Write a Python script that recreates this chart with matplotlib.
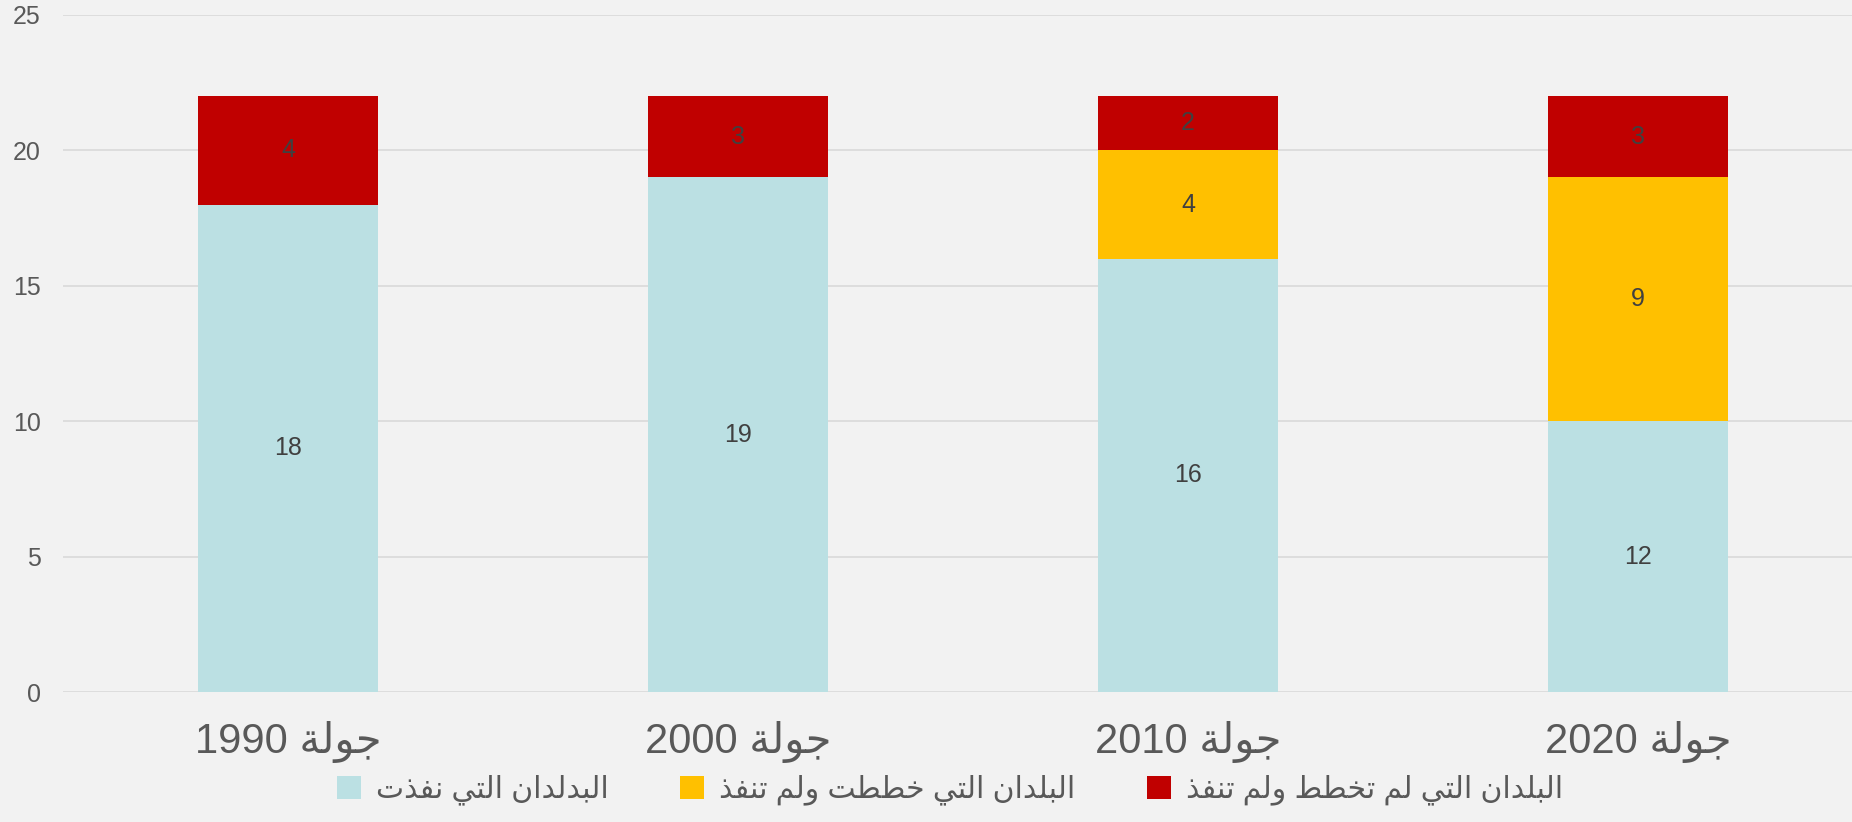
import matplotlib.pyplot as plt

# ---- data ----
categories = ['جولة 1990', 'جولة 2000', 'جولة 2010', 'جولة 2020']
implemented = [18, 19, 16, 10]
implemented_labels = ['18', '19', '16', '12']   # label shown in the source chart
planned_not_done = [0, 0, 4, 9]
not_planned = [4, 3, 2, 3]
series_names = ['البدلدان التي نفذت', 'البلدان التي خططت ولم تنفذ', 'البلدان التي لم تخطط ولم تنفذ']
y_ticks = [0, 5, 10, 15, 20, 25]

colors = ['#BBE0E3', '#FFC000', '#C00000']
text_color = '#595959'
label_color = '#404040'

# ---- minimal Arabic shaping (presentation forms + visual order) ----
FORMS = {  # isolated, final, initial, medial
    'ا': ('\uFE8D', '\uFE8E', None, None),
    'ب': ('\uFE8F', '\uFE90', '\uFE91', '\uFE92'),
    'ة': ('\uFE93', '\uFE94', None, None),
    'ت': ('\uFE95', '\uFE96', '\uFE97', '\uFE98'),
    'ج': ('\uFE9D', '\uFE9E', '\uFE9F', '\uFEA0'),
    'خ': ('\uFEA5', '\uFEA6', '\uFEA7', '\uFEA8'),
    'د': ('\uFEA9', '\uFEAA', None, None),
    'ذ': ('\uFEAB', '\uFEAC', None, None),
    'ط': ('\uFEC1', '\uFEC2', '\uFEC3', '\uFEC4'),
    'ف': ('\uFED1', '\uFED2', '\uFED3', '\uFED4'),
    'ل': ('\uFEDD', '\uFEDE', '\uFEDF', '\uFEE0'),
    'م': ('\uFEE1', '\uFEE2', '\uFEE3', '\uFEE4'),
    'ن': ('\uFEE5', '\uFEE6', '\uFEE7', '\uFEE8'),
    'و': ('\uFEED', '\uFEEE', None, None),
    'ي': ('\uFEF1', '\uFEF2', '\uFEF3', '\uFEF4'),
}


def shape_word(s):
    out = []
    for i, ch in enumerate(s):
        if ch not in FORMS:
            out.append(ch)
            continue
        prev = s[i - 1] if i > 0 else None
        nxt = s[i + 1] if i + 1 < len(s) else None
        join_prev = prev in FORMS and FORMS[prev][2] is not None
        join_next = FORMS[ch][2] is not None and nxt in FORMS
        iso, fin, ini, med = FORMS[ch]
        if join_prev and join_next:
            out.append(med)
        elif join_prev:
            out.append(fin)
        elif join_next:
            out.append(ini)
        else:
            out.append(iso)
    return ''.join(out)


def ar(s):
    shaped = shape_word(s)
    runs, cur, cur_digit = [], '', None
    for ch in shaped:
        d = ch.isdigit()
        if cur and d != cur_digit:
            runs.append((cur, cur_digit))
            cur = ''
        cur += ch
        cur_digit = d
    if cur:
        runs.append((cur, cur_digit))
    return ''.join(r if d else r[::-1] for r, d in reversed(runs))


# Liberation Sans for digits, DejaVu picks up the Arabic glyphs
plt.rcParams['font.family'] = ['Liberation Sans', 'DejaVu Sans Condensed', 'DejaVu Sans']

fig = plt.figure(figsize=(18.52, 8.22), dpi=100, facecolor='#F2F2F2')
ax = fig.add_axes([63 / 1852, 1 - 692 / 822, 1 - 63 / 1852, (692 - 15) / 822])
ax.set_facecolor('#F2F2F2')

x = list(range(len(categories)))
bottom2 = implemented
bottom3 = [a + b for a, b in zip(implemented, planned_not_done)]

b1 = ax.bar(x, implemented, width=0.4, color=colors[0], label=ar(series_names[0]), zorder=2)
b2 = ax.bar(x, planned_not_done, width=0.4, bottom=bottom2, color=colors[1], label=ar(series_names[1]), zorder=2)
b3 = ax.bar(x, not_planned, width=0.4, bottom=bottom3, color=colors[2], label=ar(series_names[2]), zorder=2)

ax.bar_label(b1, labels=implemented_labels, label_type='center', color=label_color, fontsize=18)
ax.bar_label(b2, labels=[str(v) if v else '' for v in planned_not_done], label_type='center',
             color=label_color, fontsize=18)
ax.bar_label(b3, labels=[str(v) for v in not_planned], label_type='center', color=label_color, fontsize=18)

ax.set_ylim(0, 25)
ax.set_yticks(y_ticks)
ax.set_xlim(-0.5, (1852 - 288) / 450)
ax.set_xticks(x)
ax.set_xticklabels([ar(c) for c in categories], fontsize=30, color=text_color)
ax.tick_params(axis='y', length=0, pad=16, labelsize=18, labelcolor=text_color)
ax.tick_params(axis='x', length=0, pad=21)
ax.yaxis.grid(True, color='#D9D9D9', linewidth=1.2, zorder=0)
ax.set_axisbelow(True)
for sp in ax.spines.values():
    sp.set_visible(False)

leg = fig.legend(loc='center', bbox_to_anchor=(0.513, 1 - 790 / 822), ncol=3, frameon=False,
                 fontsize=21.5, labelcolor=text_color, handlelength=0.8, handleheight=0.8,
                 handletextpad=0.5, columnspacing=2.4)

fig.savefig('out.png', dpi=100, facecolor=fig.get_facecolor())
